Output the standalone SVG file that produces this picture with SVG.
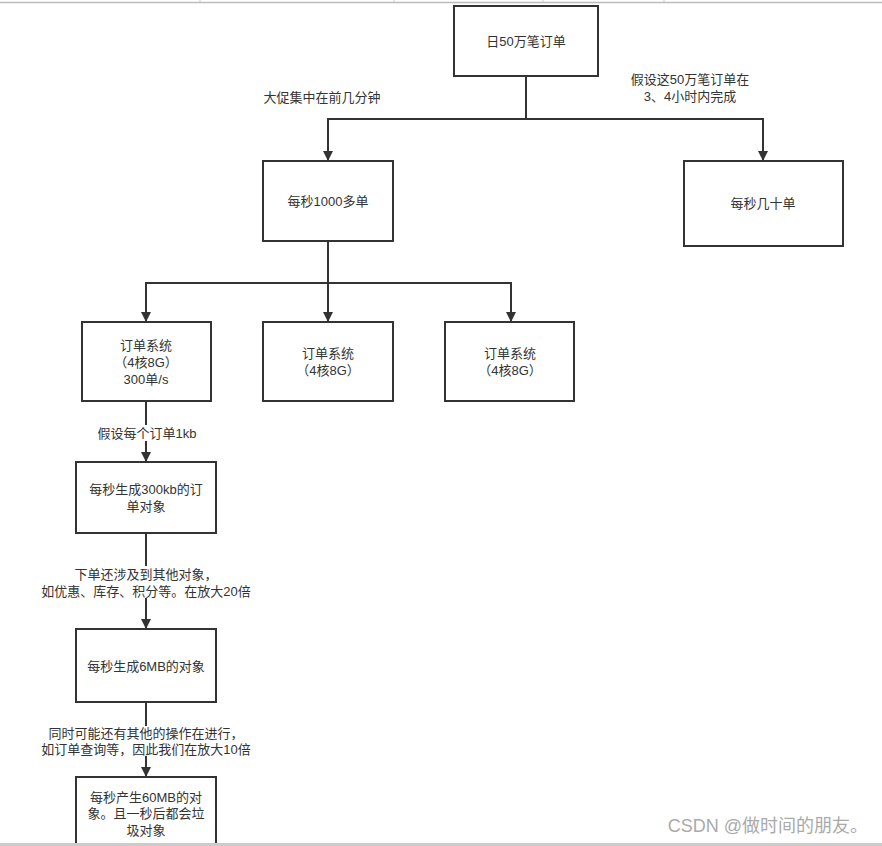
<svg xmlns="http://www.w3.org/2000/svg" width="882" height="846" viewBox="0 0 882 846">
<defs>
<marker id="ah" markerWidth="10" markerHeight="10" refX="9" refY="5" orient="auto" markerUnits="userSpaceOnUse">
<path d="M0,0 L10,5 L0,10 Z" fill="#333"/>
</marker>
<style>
.box{fill:#fff;stroke:#333;stroke-width:2}
.t{font-family:"Liberation Sans","Noto Sans CJK SC",sans-serif;font-size:13px;fill:#333;text-anchor:middle}
.ln{fill:none;stroke:#333;stroke-width:2}
.lbl{fill:#fff}
</style>
</defs>
<rect width="882" height="846" fill="#fff"/>
<g id="chrome">
<line x1="0" y1="2.5" x2="882" y2="2.5" stroke="#bbb" stroke-width="1.5"/>
<line x1="200" y1="0" x2="200" y2="2" stroke="#ccc"/>
<line x1="394" y1="0" x2="394" y2="2" stroke="#ccc"/>
<line x1="543" y1="0" x2="543" y2="2" stroke="#ccc"/>
<line x1="664" y1="0" x2="664" y2="2" stroke="#ccc"/>
</g>
<g id="connectors">
<path class="ln" d="M526,77 V119 H328 V160" marker-end="url(#ah)"/>
<path class="ln" d="M526,119 H763 V160" marker-end="url(#ah)"/>
<path class="ln" d="M328,241 V283 H146 V321" marker-end="url(#ah)"/>
<path class="ln" d="M328,283 V321" marker-end="url(#ah)"/>
<path class="ln" d="M328,283 H511 V321" marker-end="url(#ah)"/>
<path class="ln" d="M146,401 V461" marker-end="url(#ah)"/>
<path class="ln" d="M146,533 V628" marker-end="url(#ah)"/>
<path class="ln" d="M146,702 V776" marker-end="url(#ah)"/>
</g>
<g id="labels">
<text class="t" x="322" y="102">大促集中在前几分钟</text>
<text class="t" x="690" y="84">假设这50万笔订单在</text>
<text class="t" x="690" y="101">3、4小时内完成</text>
<rect class="lbl" x="94" y="425" width="106" height="16"/>
<text class="t" x="147" y="438">假设每个订单1kb</text>
<rect class="lbl" x="40" y="566" width="216" height="32"/>
<text class="t" x="146" y="579">下单还涉及到其他对象，</text>
<text class="t" x="146" y="596">如优惠、库存、积分等。在放大20倍</text>
<rect class="lbl" x="40" y="726" width="216" height="30"/>
<text class="t" x="146" y="738">同时可能还有其他的操作在进行，</text>
<text class="t" x="146" y="754">如订单查询等，因此我们在放大10倍</text>
</g>
<g id="n1"><rect class="box" x="454" y="6" width="144" height="70"/><text class="t" x="526" y="46">日50万笔订单</text></g>
<g id="n2"><rect class="box" x="263" y="161" width="130" height="80"/><text class="t" x="328" y="206">每秒1000多单</text></g>
<g id="n3"><rect class="box" x="684" y="161" width="159" height="85"/><text class="t" x="763" y="208">每秒几十单</text></g>
<g id="n4"><rect class="box" x="82" y="322" width="129" height="79"/><text class="t" x="146" y="350">订单系统</text><text class="t" x="146" y="367">（4核8G）</text><text class="t" x="146" y="384">300单/s</text></g>
<g id="n5"><rect class="box" x="263" y="322" width="130" height="79"/><text class="t" x="328" y="358">订单系统</text><text class="t" x="328" y="375">（4核8G）</text></g>
<g id="n6"><rect class="box" x="445" y="322" width="129" height="79"/><text class="t" x="510" y="358">订单系统</text><text class="t" x="510" y="375">（4核8G）</text></g>
<g id="n7"><rect class="box" x="76" y="462" width="140" height="71"/><text class="t" x="146" y="494">每秒生成300kb的订</text><text class="t" x="146" y="511">单对象</text></g>
<g id="n8"><rect class="box" x="76" y="629" width="140" height="73"/><text class="t" x="146" y="671">每秒生成6MB的对象</text></g>
<g id="n9"><path class="ln" d="M76,846 V777 H216 V846"/><text class="t" x="146" y="802">每秒产生60MB的对</text><text class="t" x="146" y="818">象。且一秒后都会垃</text><text class="t" x="146" y="835">圾对象</text></g>
<rect x="0" y="843" width="882" height="3" fill="#ccc"/>
<text x="868" y="832" font-family="'Liberation Sans','Noto Sans CJK SC',sans-serif" font-size="18" fill="#aaa" text-anchor="end">CSDN @做时间的朋友。</text>
</svg>
